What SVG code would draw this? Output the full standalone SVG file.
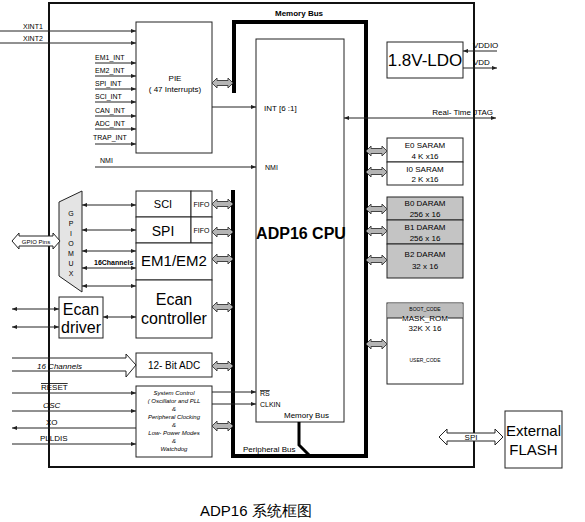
<svg xmlns="http://www.w3.org/2000/svg" xmlns:xlink="http://www.w3.org/1999/xlink" width="585" height="522" viewBox="0 0 585 522">
<style>
text{font-family:"Liberation Sans","DejaVu Sans",sans-serif;fill:#000}
.box{fill:#fff;stroke:#222;stroke-width:1}
.gbox{fill:#c4c4c4;stroke:#222;stroke-width:1}
.ln{fill:none;stroke:#222;stroke-width:1}
.bus{fill:none;stroke:#000;stroke-width:4}
.s7{font-size:7px}
.s8{font-size:8px}
.c{text-anchor:middle}
.ga{fill:#b5b5b5;stroke:#444;stroke-width:1}
</style>
<defs>
<marker id="ah" viewBox="0 0 6 6" refX="6" refY="3" markerWidth="5" markerHeight="5" markerUnits="userSpaceOnUse" orient="auto-start-reverse"><path d="M0,0.5 L6,3 L0,5.5 z" fill="#222"/></marker>
<polygon id="ga" class="ga" points="0,0 5,-5 5,-2.5 16,-2.5 16,-5 21,0 16,5 16,2.5 5,2.5 5,5"/>
</defs>

<rect id="chip" x="49" y="3" width="425" height="464" fill="none" stroke="#111" stroke-width="2"/>

<g id="pie"><rect class="box" x="136" y="22" width="76" height="131"/>
<text class="s8 c" x="175" y="81">PIE</text><text class="s8 c" x="175" y="92">( 47 Interrupts)</text></g>

<g id="cpu"><rect class="box" x="256" y="39" width="88" height="383"/>
<text x="301" y="239" class="c" font-size="16" font-weight="bold">ADP16 CPU</text>
<text class="s8" x="264" y="111">INT [6 :1]</text>
<text class="s7" x="265" y="170">NMI</text>
<text class="s7" x="260" y="396" text-decoration="overline">RS</text>
<text class="s7" x="260" y="407">CLKIN</text></g>

<g id="buses">
<path class="bus" d="M234,93 V22 H366 V456 H233 V190"/>
<path fill="none" stroke="#000" stroke-width="3" d="M299,422 V445 L310,456"/>
<text class="s8" x="275" y="16" font-weight="bold">Memory Bus</text>
<text class="s8" x="284" y="418">Memory Bus</text>
<text class="s8" x="243" y="452">Peripheral Bus</text>
</g>

<g id="ldo"><rect class="box" x="387" y="42" width="76" height="36"/>
<text x="425" y="66" class="c" font-size="17">1.8V-LDO</text></g>

<g id="e0"><rect class="box" x="387" y="138" width="76" height="24"/><text class="s8 c" x="425" y="148">E0 SARAM</text><text class="s8 c" x="425" y="159">4 K x16</text></g>
<g id="i0"><rect class="box" x="387" y="162" width="76" height="23"/><text class="s8 c" x="425" y="172">I0 SARAM</text><text class="s8 c" x="425" y="182">2 K x16</text></g>
<g id="b0"><rect class="gbox" x="387" y="197" width="76" height="23"/><text class="s8 c" x="425" y="206">B0 DARAM</text><text class="s8 c" x="425" y="217">256 x 16</text></g>
<g id="b1"><rect class="gbox" x="387" y="220" width="76" height="24"/><text class="s8 c" x="425" y="230">B1 DARAM</text><text class="s8 c" x="425" y="241">256 x 16</text></g>
<g id="b2"><rect class="gbox" x="387" y="244" width="76" height="34"/><text class="s8 c" x="425" y="257">B2 DARAM</text><text class="s8 c" x="425" y="269">32 x 16</text></g>

<g id="rom"><rect class="box" x="387" y="303" width="76" height="81"/>
<rect x="387.5" y="303.5" width="75" height="14.5" fill="#bdbdbd"/>
<path class="ln" d="M387,318 H402 M448,318 H463"/>
<text class="c" x="425" y="311" font-size="5">BOOT_CODE</text>
<text class="s8 c" x="425" y="321">MASK_ROM</text>
<text class="s8 c" x="425" y="331">32K X 16</text>
<text class="c" x="425" y="362" font-size="5">USER_CODE</text></g>

<g id="sci"><rect class="box" x="136" y="191" width="55" height="26"/><rect class="box" x="191" y="191" width="21" height="26"/>
<text x="163" y="208" class="c" font-size="11">SCI</text><text x="201.5" y="207" class="c" font-size="7">FIFO</text></g>
<g id="spi"><rect class="box" x="136" y="217" width="55" height="26"/><rect class="box" x="191" y="217" width="21" height="26"/>
<text x="163" y="236" class="c" font-size="14">SPI</text><text x="201.5" y="233" class="c" font-size="7">FIFO</text></g>
<g id="em"><rect class="box" x="136" y="243" width="76" height="37"/><text x="174" y="266" class="c" font-size="15">EM1/EM2</text></g>
<g id="ecanc"><rect class="box" x="136" y="280" width="76" height="58"/>
<text x="174" y="305" class="c" font-size="16">Ecan</text><text x="174" y="324" class="c" font-size="16">controller</text></g>

<g id="gpiomux"><polygon points="59,202 82,191 82,292 59,276" fill="#e4e4e4" stroke="#222"/>
<text class="s7 c" x="71" y="216">G</text><text class="s7 c" x="71" y="226">P</text><text class="s7 c" x="71" y="236">I</text><text class="s7 c" x="71" y="246">O</text><text class="s7 c" x="71" y="256">M</text><text class="s7 c" x="71" y="266">U</text><text class="s7 c" x="71" y="276">X</text></g>

<g id="gpiopins"><polygon points="12,241 19,233 19,236 53,236 53,233 60,241 53,249 53,246 19,246 19,249" fill="#fff" stroke="#222"/>
<text x="36" y="243.5" class="c" font-size="6">GPIO Pins</text></g>

<g id="ecand"><rect class="box" x="59" y="297" width="44" height="41"/>
<text x="81" y="315" class="c" font-size="16">Ecan</text><text x="81" y="333" class="c" font-size="16">driver</text></g>

<g id="adc"><rect class="box" x="136" y="353" width="76" height="24"/><text x="174" y="369" class="c" font-size="10">12- Bit ADC</text></g>

<g id="sysctl"><rect class="box" x="136" y="386" width="76" height="71"/>
<g font-size="6" font-style="italic" text-anchor="middle">
<text x="174" y="395">System Control</text><text x="174" y="403">( Oscillator and PLL</text><text x="174" y="411">&amp;</text>
<text x="174" y="419">Peripheral Clocking</text><text x="174" y="427">&amp;</text><text x="174" y="435">Low- Power Modes</text>
<text x="174" y="443">&amp;</text><text x="174" y="451">Watchdog</text></g></g>

<g id="flash"><rect class="box" x="505" y="411" width="57" height="57"/>
<text x="533.5" y="436" class="c" font-size="15">External</text><text x="533.5" y="455" class="c" font-size="15">FLASH</text></g>

<g id="connectors">
<g class="ln" marker-end="url(#ah)">
<path d="M0,31 H136"/><path d="M0,43 H136"/>
<path d="M95,63 H136"/><path d="M95,76 H136"/><path d="M95,89 H136"/><path d="M95,102 H136"/>
<path d="M95,116 H136"/><path d="M95,129 H136"/><path d="M95,144 H136"/>
<path d="M95,167 H256"/><path d="M212,107 H256"/>
<path d="M497,51 H463"/><path d="M463,68 H497"/>
<path d="M12,393 H136"/><path d="M12,411 H136"/><path d="M136,428 H12"/><path d="M12,444 H136"/>
<path d="M212,392 H256"/><path d="M212,404 H256"/>
</g>
<g class="ln" marker-start="url(#ah)" marker-end="url(#ah)">
<path d="M344,118 H496"/>
<path d="M82,205 H136"/><path d="M82,230 H136"/><path d="M82,251 H136"/><path d="M82,268 H136"/><path d="M82,286 H136"/>
<path d="M103,317 H136"/><path d="M12,309 H59"/><path d="M12,327 H59"/>
</g>
<path d="M12,358 H126 V354 L136,365 L126,377 V371 H12" fill="none" stroke="#222"/>
<polygon points="439,437 447,429 447,433 495,433 495,429 503,437 495,445 495,441 447,441 447,445" fill="#fff" stroke="#222"/>
<text x="471" y="440" class="c" font-size="8">SPI</text>
<use xlink:href="#ga" x="212" y="83"/><use xlink:href="#ga" x="212" y="204"/><use xlink:href="#ga" x="212" y="232"/>
<use xlink:href="#ga" x="212" y="259"/><use xlink:href="#ga" x="212" y="307"/><use xlink:href="#ga" x="212" y="366"/><use xlink:href="#ga" x="212" y="426"/>
<use xlink:href="#ga" x="366" y="151"/><use xlink:href="#ga" x="366" y="172"/><use xlink:href="#ga" x="366" y="209"/>
<use xlink:href="#ga" x="366" y="231"/><use xlink:href="#ga" x="366" y="260"/><use xlink:href="#ga" x="366" y="344"/>
</g>

<g id="labels">
<text class="s7" x="23" y="29">XINT1</text><text class="s7" x="23" y="41">XINT2</text>
<text class="s7" x="95" y="60">EM1_INT</text><text class="s7" x="95" y="73">EM2_INT</text><text class="s7" x="95" y="86">SPI_INT</text>
<text class="s7" x="95" y="99">SCI_INT</text><text class="s7" x="95" y="113">CAN_INT</text><text class="s7" x="95" y="126">ADC_INT</text>
<text class="s7" x="93" y="140">TRAP_INT</text><text class="s7" x="100" y="163">NMI</text>
<text class="s8" x="473" y="48">VDDIO</text><text class="s8" x="473" y="65">VDD</text>
<text class="s8" x="493" y="115" text-anchor="end">Real- Time JTAG</text>
<text x="94" y="265" font-size="7" font-weight="bold">16Channels</text>
<text x="37" y="369" font-size="8" font-style="italic">16 Channels</text>
<text class="s8" x="41" y="390" text-decoration="overline">RESET</text>
<text class="s8" x="43" y="408" font-style="italic">OSC</text>
<text class="s8" x="46" y="425">XO</text>
<text class="s8" x="40" y="441">PLLDIS</text>
</g>

<text x="200" y="516" font-size="15" font-family="'Liberation Sans','Noto Sans CJK SC',sans-serif">ADP16 系统框图</text>
</svg>
